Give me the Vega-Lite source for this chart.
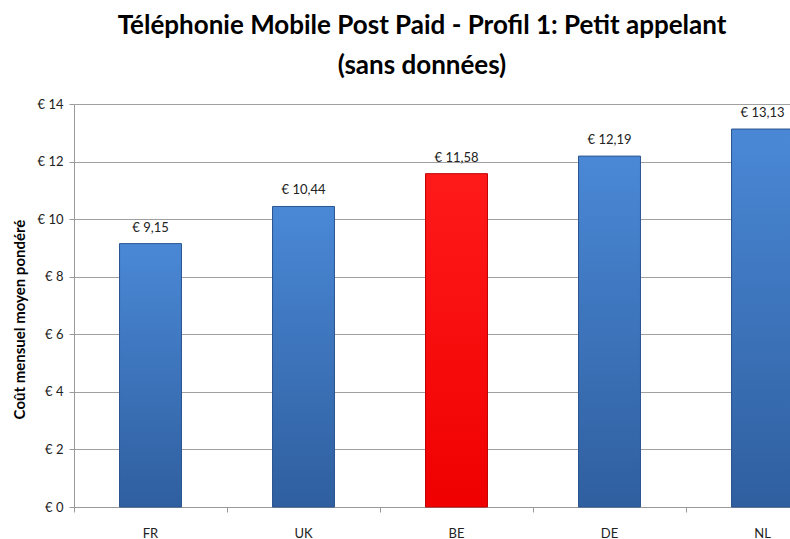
{
  "$schema": "https://vega.github.io/schema/vega-lite/v6.json",
  "autosize": {"type": "none"},
  "width": 716,
  "height": 403,
  "padding": {"left": 74, "top": 104, "right": 0, "bottom": 32},
  "background": "white",
  "config": {
    "locale": {"number": {"decimal": ",", "thousands": " ", "grouping": [3], "currency": ["€ ", ""]}},
    "view": {"stroke": null},
    "font": "Lato"
  },
  "title": {
    "text": ["Téléphonie Mobile Post Paid - Profil 1: Petit appelant", "(sans données)"],
    "fontSize": 26,
    "fontWeight": "bold",
    "font": "Lato",
    "color": "#000000",
    "anchor": "middle",
    "frame": "group",
    "dx": -10,
    "offset": 19,
    "lineHeight": 40
  },
  "data": {
    "values": [
      {"pays": "FR", "cout": 9.15},
      {"pays": "UK", "cout": 10.44},
      {"pays": "BE", "cout": 11.58},
      {"pays": "DE", "cout": 12.19},
      {"pays": "NL", "cout": 13.13}
    ]
  },
  "encoding": {
    "x": {
      "field": "pays",
      "type": "nominal",
      "sort": ["FR", "UK", "BE", "DE", "NL"],
      "scale": {"range": [0, 765], "paddingInner": 0, "paddingOuter": 0},
      "axis": {
        "title": null,
        "labelAngle": 0,
        "labelFontSize": 13,
        "labelColor": "#222222",
        "labelPadding": 15,
        "bandPosition": 0,
        "tickSize": 5,
        "tickColor": "#999999",
        "domainColor": "#999999",
        "grid": false,
        "labelAlign": "center"
      }
    },
    "y": {
      "field": "cout",
      "type": "quantitative",
      "scale": {"domain": [0, 14], "nice": false},
      "axis": {
        "title": "Coût mensuel moyen pondéré",
        "titleFontSize": 15,
        "titleFontWeight": "bold",
        "titleColor": "#000000",
        "titlePadding": 10,
        "titleY": 215,
        "values": [0, 2, 4, 6, 8, 10, 12, 14],
        "format": "$d",
        "labelFontSize": 13,
        "labelColor": "#222222",
        "labelPadding": 6,
        "tickSize": 5,
        "tickColor": "#999999",
        "domainColor": "#999999",
        "gridColor": "#a0a0a0",
        "gridWidth": 1
      }
    }
  },
  "layer": [
    {
      "mark": {"type": "bar", "width": {"band": 0.405}, "strokeWidth": 1},
      "encoding": {
        "fill": {
          "condition": {
            "test": "datum.pays === 'BE'",
            "value": {"gradient": "linear", "x1": 0, "y1": 0, "x2": 0, "y2": 1, "stops": [{"offset": 0, "color": "#ff1a1a"}, {"offset": 1, "color": "#f00000"}]}
          },
          "value": {"gradient": "linear", "x1": 0, "y1": 0, "x2": 0, "y2": 1, "stops": [{"offset": 0, "color": "#4a88d6"}, {"offset": 1, "color": "#2f5f9f"}]}
        },
        "stroke": {
          "condition": {"test": "datum.pays === 'BE'", "value": "#c00000"},
          "value": "#2a5590"
        }
      }
    },
    {
      "mark": {"type": "text", "baseline": "bottom", "dy": -9, "fontSize": 13, "color": "#222222", "font": "Lato"},
      "encoding": {
        "text": {"field": "cout", "type": "quantitative", "format": "$.2f"}
      }
    }
  ]
}
